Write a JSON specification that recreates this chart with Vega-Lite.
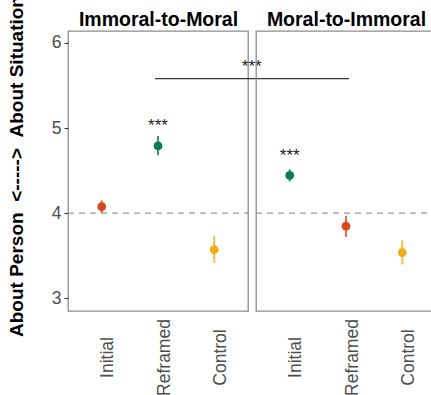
{
  "$schema": "https://vega.github.io/schema/vega-lite/v6.json",
  "autosize": "none",
  "padding": {"left": 68, "top": 31, "right": 363, "bottom": 364},
  "bounds": "flush",
  "spacing": 8,
  "datasets": {
    "means": [
      {"panel": "Immoral-to-Moral", "cond": "Initial", "valence": "Immoral", "mean": 4.075, "lo": 4.0, "hi": 4.15},
      {"panel": "Immoral-to-Moral", "cond": "Reframed", "valence": "Moral", "mean": 4.79, "lo": 4.68, "hi": 4.905},
      {"panel": "Immoral-to-Moral", "cond": "Control", "valence": "Control", "mean": 3.57, "lo": 3.415, "hi": 3.73},
      {"panel": "Moral-to-Immoral", "cond": "Initial", "valence": "Moral", "mean": 4.443, "lo": 4.37, "hi": 4.515},
      {"panel": "Moral-to-Immoral", "cond": "Reframed", "valence": "Immoral", "mean": 3.847, "lo": 3.72, "hi": 3.97},
      {"panel": "Moral-to-Immoral", "cond": "Control", "valence": "Control", "mean": 3.537, "lo": 3.396, "hi": 3.68}
    ],
    "stars": [
      {"panel": "Immoral-to-Moral", "cond": "Reframed", "y": 4.968, "label": "***"},
      {"panel": "Moral-to-Immoral", "cond": "Initial", "y": 4.607, "label": "***"}
    ],
    "bracket": [
      {"x": 1.947, "x2": 5.396, "y": 5.58, "ystar": 5.654, "xstar": 3.666, "label": "***"}
    ],
    "refline": [
      {"ref": 4}
    ]
  },
  "config": {
    "font": "Liberation Sans",
    "view": {"stroke": "#8c8c8c", "strokeWidth": 1.3},
    "axis": {
      "grid": false,
      "domain": false,
      "labelFont": "Liberation Sans",
      "labelFontSize": 17.5,
      "labelColor": "#4d4d4d",
      "tickColor": "#333333",
      "tickSize": 4
    }
  },
  "hconcat": [
    {
      "width": 180,
      "height": 280,
      "layer": [
        {
          "layer": [
            {
              "data": {"name": "means"},
              "transform": [{"filter": "datum.panel === 'Immoral-to-Moral'"}],
              "mark": {"type": "rule", "strokeWidth": 2, "opacity": 0.8},
              "encoding": {
                "x": {"field": "cond", "type": "nominal", "scale": {"type": "point", "domain": ["Initial", "Reframed", "Control"], "padding": 0.6},
                  "axis": {"title": null, "labelAngle": -90, "labelAlign": "center", "labelBaseline": "middle", "ticks": false, "labelPadding": 46, "labelOffset": 6}},
                "y": {"field": "lo", "type": "quantitative", "scale": {"domain": [2.85, 6.14], "nice": false, "zero": false},
                  "axis": {"title": "About Person\u00a0\u00a0<----->\u00a0\u00a0About Situation", "values": [3, 4, 5, 6], "format": "d", "titleFontSize": 19, "titleFontWeight": "bold", "titleColor": "#000000", "titlePadding": 25, "titleY": 135, "labelPadding": 3}},
                "y2": {"field": "hi"},
                "color": {"field": "valence", "type": "nominal", "scale": {"domain": ["Immoral", "Moral", "Control"], "range": ["#D9481C", "#0A7D58", "#F2AE1A"]}, "legend": null}
              }
            },
            {
              "data": {"name": "means"},
              "transform": [{"filter": "datum.panel === 'Immoral-to-Moral'"}],
              "mark": {"type": "point", "filled": true, "size": 78, "opacity": 1},
              "encoding": {
                "x": {"field": "cond", "type": "nominal"},
                "y": {"field": "mean", "type": "quantitative"},
                "color": {"field": "valence", "type": "nominal", "legend": null}
              }
            },
            {
              "data": {"name": "stars"},
              "transform": [{"filter": "datum.panel === 'Immoral-to-Moral'"}],
              "mark": {"type": "text", "fontSize": 17, "color": "#222222", "baseline": "alphabetic"},
              "encoding": {
                "x": {"field": "cond", "type": "nominal"},
                "y": {"field": "y", "type": "quantitative"},
                "text": {"field": "label"}
              }
            }
          ]
        },
        {
          "layer": [
            {
              "data": {"name": "refline"},
              "mark": {"type": "rule", "strokeDash": [6, 5], "color": "#9a9a9a", "strokeWidth": 1.3},
              "encoding": {
                "x": {"datum": 0.4, "type": "quantitative", "scale": {"domain": [0.4, 3.6], "nice": false, "zero": false},
                  "axis": {"orient": "top", "title": "Immoral-to-Moral", "labels": false, "ticks": false, "domain": false, "titleFontSize": 19.5, "titleFontWeight": "bold", "titleColor": "#000000", "titlePadding": 5.5, "titleBaseline": "alphabetic"}},
                "x2": {"datum": 3.6},
                "y": {"field": "ref", "type": "quantitative"}
              }
            },
            {
              "data": {"name": "bracket"},
              "mark": {"type": "rule", "color": "#3a3a3a", "strokeWidth": 1.4},
              "encoding": {
                "x": {"field": "x", "type": "quantitative"},
                "x2": {"field": "x2"},
                "y": {"field": "y", "type": "quantitative"}
              }
            },
            {
              "data": {"name": "bracket"},
              "mark": {"type": "text", "fontSize": 17, "color": "#222222", "baseline": "alphabetic"},
              "encoding": {
                "x": {"field": "xstar", "type": "quantitative"},
                "y": {"field": "ystar", "type": "quantitative"},
                "text": {"field": "label"}
              }
            }
          ]
        }
      ],
      "resolve": {"scale": {"x": "independent"}}
    },
    {
      "width": 180,
      "height": 280,
      "layer": [
        {
          "layer": [
            {
              "data": {"name": "means"},
              "transform": [{"filter": "datum.panel === 'Moral-to-Immoral'"}],
              "mark": {"type": "rule", "strokeWidth": 2, "opacity": 0.8},
              "encoding": {
                "x": {"field": "cond", "type": "nominal", "scale": {"type": "point", "domain": ["Initial", "Reframed", "Control"], "padding": 0.6},
                  "axis": {"title": null, "labelAngle": -90, "labelAlign": "center", "labelBaseline": "middle", "ticks": false, "labelPadding": 46, "labelOffset": 6}},
                "y": {"field": "lo", "type": "quantitative", "scale": {"domain": [2.85, 6.14], "nice": false, "zero": false}, "axis": null},
                "y2": {"field": "hi"},
                "color": {"field": "valence", "type": "nominal", "scale": {"domain": ["Immoral", "Moral", "Control"], "range": ["#D9481C", "#0A7D58", "#F2AE1A"]}, "legend": null}
              }
            },
            {
              "data": {"name": "means"},
              "transform": [{"filter": "datum.panel === 'Moral-to-Immoral'"}],
              "mark": {"type": "point", "filled": true, "size": 78, "opacity": 1},
              "encoding": {
                "x": {"field": "cond", "type": "nominal"},
                "y": {"field": "mean", "type": "quantitative"},
                "color": {"field": "valence", "type": "nominal", "legend": null}
              }
            },
            {
              "data": {"name": "stars"},
              "transform": [{"filter": "datum.panel === 'Moral-to-Immoral'"}],
              "mark": {"type": "text", "fontSize": 17, "color": "#222222", "baseline": "alphabetic"},
              "encoding": {
                "x": {"field": "cond", "type": "nominal"},
                "y": {"field": "y", "type": "quantitative"},
                "text": {"field": "label"}
              }
            }
          ]
        },
        {
          "data": {"name": "refline"},
          "mark": {"type": "rule", "strokeDash": [6, 5], "color": "#9a9a9a", "strokeWidth": 1.3},
          "encoding": {
            "x": {"datum": 0.4, "type": "quantitative", "scale": {"domain": [0.4, 3.6], "nice": false, "zero": false},
              "axis": {"orient": "top", "title": "Moral-to-Immoral", "labels": false, "ticks": false, "domain": false, "titleFontSize": 19.5, "titleFontWeight": "bold", "titleColor": "#000000", "titlePadding": 5.5, "titleBaseline": "alphabetic"}},
            "x2": {"datum": 3.6},
            "y": {"field": "ref", "type": "quantitative"}
          }
        }
      ],
      "resolve": {"scale": {"x": "independent"}}
    }
  ]
}
